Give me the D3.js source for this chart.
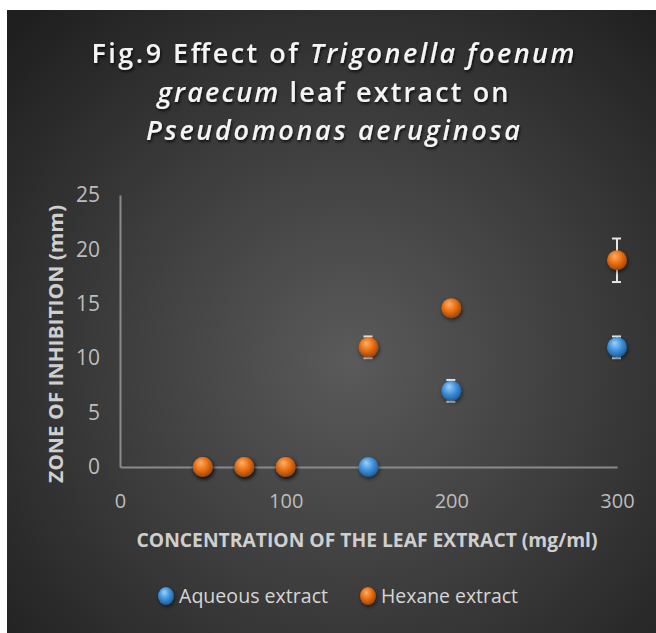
<!DOCTYPE html>
<html>
<head>
<meta charset="utf-8">
<script src="https://cdn.jsdelivr.net/npm/d3@7"></script>
<style>
  html, body { margin: 0; padding: 0; background: #fff; }
  svg { display: block; }
</style>
</head>
<body>
<div id="chart"></div>
<script>
// data
const concentration = [50, 75, 100, 150, 200, 300]
const aqueous = [0, 0, 0, 0, 7, 11]
const aqueousErr = [0, 0, 0, 0, 1, 1]
const hexane = [0, 0, 0, 11, 14.6, 19]
const hexaneErr = [0, 0, 0, 1, 0, 2]

const xTicks = [0, 100, 200, 300]
const yTicks = [0, 5, 10, 15, 20, 25]

const xLabel = "CONCENTRATION OF THE LEAF EXTRACT (mg/ml)"
const yLabel = "ZONE OF INHIBITION (mm)"

const series = [
  { key: "aqueous", label: "Aqueous extract", values: aqueous, err: aqueousErr,
    light: "#9fd0f7", mid: "#3f92dc", dark: "#1d5c9c" },
  { key: "hexane", label: "Hexane extract", values: hexane, err: hexaneErr,
    light: "#fbb06a", mid: "#ea6f12", dark: "#9c4507" },
]

const width = 656
const height = 633

const svg = d3.select("#chart")
  .append("svg")
  .attr("width", width)
  .attr("height", height)

const defs = svg.append("defs")

// background radial gradient
const bg = defs.append("radialGradient")
  .attr("id", "bg")
  .attr("gradientUnits", "userSpaceOnUse")
  .attr("cx", 350).attr("cy", 360).attr("r", 470)
bg.append("stop").attr("offset", "0").attr("stop-color", "#5a5a5a")
bg.append("stop").attr("offset", "0.5").attr("stop-color", "#3d3d3d")
bg.append("stop").attr("offset", "1").attr("stop-color", "#1f1f1f")

// sphere gradients
series.forEach(s => {
  const g = defs.append("radialGradient")
    .attr("id", "ball-" + s.key)
    .attr("cx", "45%").attr("cy", "40%").attr("r", "60%")
    .attr("fx", "38%").attr("fy", "28%")
  g.append("stop").attr("offset", "0").attr("stop-color", s.light)
  g.append("stop").attr("offset", "0.55").attr("stop-color", s.mid)
  g.append("stop").attr("offset", "1").attr("stop-color", s.dark)
})

const shadow = defs.append("filter").attr("id", "shadow")
  .attr("x", "-50%").attr("y", "-50%").attr("width", "200%").attr("height", "200%")
shadow.append("feDropShadow")
  .attr("dx", 1).attr("dy", 2).attr("stdDeviation", 2)
  .attr("flood-color", "#000").attr("flood-opacity", 0.55)

const textShadow = defs.append("filter").attr("id", "tshadow")
  .attr("x", "-10%").attr("y", "-30%").attr("width", "120%").attr("height", "160%")
textShadow.append("feDropShadow")
  .attr("dx", 1).attr("dy", 2).attr("stdDeviation", 1.5)
  .attr("flood-color", "#000").attr("flood-opacity", 0.8)

// chart background panel
svg.append("rect")
  .attr("x", 7).attr("y", 10)
  .attr("width", width - 7).attr("height", height - 10)
  .attr("fill", "url(#bg)")

// Title
const titleLines = [
  { parts: [["Fig.9 Effect of ", false], ["Trigonella foenum", true]], y: 63, len: 483 },
  { parts: [["graecum", true], [" leaf extract on", false]], y: 102, len: 351 },
  { parts: [["Pseudomonas aeruginosa", true]], y: 140, len: 374 },
]
const title = svg.append("g").attr("filter", "url(#tshadow)")
titleLines.forEach(l => {
  const t = title.append("text")
    .attr("x", 333).attr("y", l.y)
    .attr("text-anchor", "middle")
    .attr("textLength", l.len)
    .attr("lengthAdjust", "spacing")
    .style("font-family", "'Open Sans', sans-serif")
    .style("font-size", "27px")
    .style("font-weight", 600)
    .style("fill", "#f4f4f4")
  l.parts.forEach(p => {
    t.append("tspan").text(p[0]).style("font-style", p[1] ? "italic" : "normal")
  })
})

// Scales
const x = d3.scaleLinear().domain([0, 300]).range([120, 617])
const y = d3.scaleLinear().domain([0, 25]).range([467, 195])

// Axes
const axisColor = "#8a8a8a"
const xAxis = svg.append("g")
  .attr("transform", `translate(0,${y(0)})`)
  .call(d3.axisBottom(x).tickValues(xTicks).tickSize(0).tickPadding(27))
xAxis.select(".domain").attr("stroke", axisColor).attr("stroke-width", 2)
xAxis.selectAll("text")
  .style("font-family", "'Open Sans', sans-serif")
  .style("font-size", "20px")
  .attr("fill", "#bdbdbd")

const yAxis = svg.append("g")
  .attr("transform", `translate(${x(0)},0)`)
  .call(d3.axisLeft(y).tickValues(yTicks).tickSize(0).tickPadding(20))
yAxis.select(".domain").attr("stroke", axisColor).attr("stroke-width", 2)
yAxis.selectAll("text")
  .style("font-family", "'Open Sans', sans-serif")
  .style("font-size", "21px")
  .attr("fill", "#bdbdbd")

// Axis titles
svg.append("text")
  .text(xLabel)
  .attr("x", 367).attr("y", 547)
  .attr("text-anchor", "middle")
  .attr("textLength", 461)
  .attr("lengthAdjust", "spacingAndGlyphs")
  .style("font-family", "'Open Sans', sans-serif")
  .style("font-weight", "bold")
  .style("font-size", "20px")
  .style("fill", "#cfcfcf")

svg.append("text")
  .text(yLabel)
  .attr("text-anchor", "middle")
  .attr("transform", `translate(63,344) rotate(-90)`)
  .attr("textLength", 278)
  .attr("lengthAdjust", "spacingAndGlyphs")
  .style("font-family", "'Open Sans', sans-serif")
  .style("font-weight", "bold")
  .style("font-size", "20px")
  .style("fill", "#cfcfcf")

// Points with error bars
const r = 10
series.forEach(s => {
  const rows = concentration.map((c, i) => ({ c, v: s.values[i], e: s.err[i] }))
  const g = svg.append("g").attr("class", "series-" + s.key)

  const bars = g.append("g")
    .attr("stroke", "#e6e6e6")
    .attr("stroke-width", 2)
    .selectAll("g")
    .data(rows.filter(d => d.e > 0))
    .join("g")
  bars.append("line")
    .attr("x1", d => x(d.c)).attr("x2", d => x(d.c))
    .attr("y1", d => y(d.v + d.e)).attr("y2", d => y(d.v - d.e))
  bars.append("line")
    .attr("x1", d => x(d.c) - 5).attr("x2", d => x(d.c) + 4)
    .attr("y1", d => y(d.v + d.e)).attr("y2", d => y(d.v + d.e))
  bars.append("line")
    .attr("x1", d => x(d.c) - 5).attr("x2", d => x(d.c) + 4)
    .attr("y1", d => y(d.v - d.e)).attr("y2", d => y(d.v - d.e))

  g.append("g")
    .selectAll("circle")
    .data(rows)
    .join("circle")
    .attr("cx", d => x(d.c))
    .attr("cy", d => y(d.v))
    .attr("r", r)
    .attr("fill", `url(#ball-${s.key})`)
    .attr("filter", "url(#shadow)")
})

// Legend
const legendX = [166, 368]
const legendLen = [149, 137]
const legend = svg.append("g")
  .selectAll("g")
  .data(series)
  .join("g")
  .attr("transform", (d, i) => `translate(${legendX[i]},596)`)
legend.append("ellipse")
  .attr("rx", 8).attr("ry", 9)
  .attr("fill", d => `url(#ball-${d.key})`)
  .attr("filter", "url(#shadow)")
legend.append("text")
  .text(d => d.label)
  .attr("x", 13)
  .attr("dy", "0.35em")
  .attr("textLength", (d, i) => legendLen[i])
  .attr("lengthAdjust", "spacingAndGlyphs")
  .style("font-family", "'Open Sans', sans-serif")
  .style("font-size", "20px")
  .style("fill", "#d6d6d6")
</script>
</body>
</html>
